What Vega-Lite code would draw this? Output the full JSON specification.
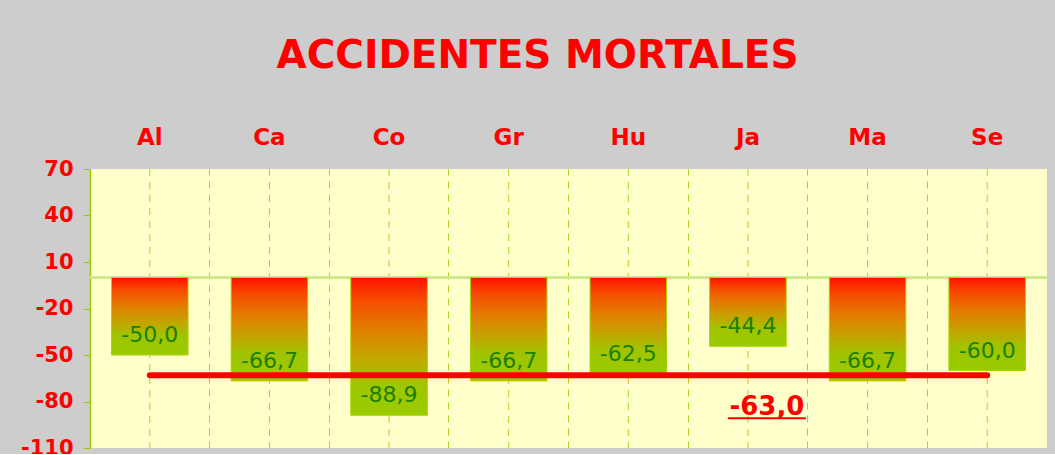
{
  "$schema": "https://vega.github.io/schema/vega-lite/v6.json",
  "autosize": {"type": "none"},
  "padding": {"left": 90, "top": 169, "right": 8, "bottom": 6},
  "width": 957,
  "height": 279,
  "background": "#cdcdcd",
  "config": {
    "view": {"fill": "#ffffcc", "stroke": null},
    "font": "DejaVu Sans",
    "locale": {"number": {"decimal": ",", "thousands": ".", "grouping": [3], "currency": ["", " €"], "minus": "-"}}
  },
  "title": {
    "text": "ACCIDENTES MORTALES",
    "font": "DejaVu Sans",
    "fontSize": 39,
    "fontWeight": "bold",
    "color": "#ff0000",
    "anchor": "middle",
    "dx": -31,
    "offset": 50
  },
  "datasets": {
    "bars": [
      {"cat": "Al", "value": -50.0},
      {"cat": "Ca", "value": -66.7},
      {"cat": "Co", "value": -88.9},
      {"cat": "Gr", "value": -66.7},
      {"cat": "Hu", "value": -62.5},
      {"cat": "Ja", "value": -44.4},
      {"cat": "Ma", "value": -66.7},
      {"cat": "Se", "value": -60.0}
    ],
    "avg": [
      {"start": "Al", "end": "Se", "labelcat": "Ja", "avg": -63.0}
    ]
  },
  "encoding": {
    "x": {
      "field": "cat",
      "type": "nominal",
      "scale": {"domain": ["Al", "Ca", "Co", "Gr", "Hu", "Ja", "Ma", "Se"], "paddingInner": 0, "paddingOuter": 0},
      "axis": {
        "orient": "top",
        "title": null,
        "labelAngle": 0,
        "labelFont": "DejaVu Sans",
        "labelFontSize": 23,
        "labelFontWeight": "bold",
        "labelColor": "#ff0000",
        "labelPadding": 20,
        "ticks": false,
        "domain": false,
        "grid": true,
        "bandPosition": 0,
        "gridColor": "#aad420",
        "gridDash": [7, 6],
        "gridWidth": 1
      }
    }
  },
  "layer": [
    {
      "data": {"name": "bars"},
      "mark": {"type": "rule", "color": "#aad420", "strokeDash": [7, 6], "strokeWidth": 1},
      "encoding": {}
    },
    {
      "data": {"name": "bars"},
      "mark": {"type": "rule", "color": "#cce88a", "strokeWidth": 1.5},
      "encoding": {"x": null, "y": {"datum": 0, "type": "quantitative"}}
    },
    {
      "data": {"name": "bars"},
      "mark": {
        "type": "bar",
        "width": {"band": 0.64},
        "stroke": "#a8d400",
        "strokeWidth": 1,
        "fill": {
          "gradient": "linear",
          "x1": 0, "y1": 0, "x2": 0, "y2": 1,
          "stops": [
            {"offset": 0, "color": "#ff1000"},
            {"offset": 0.15, "color": "#f84800"},
            {"offset": 0.35, "color": "#e57800"},
            {"offset": 0.55, "color": "#c8a000"},
            {"offset": 0.75, "color": "#a0c400"},
            {"offset": 1, "color": "#99cc00"}
          ]
        }
      },
      "encoding": {
        "y": {
          "field": "value",
          "type": "quantitative",
          "scale": {"domain": [-110, 70], "nice": false, "zero": false},
          "axis": {
            "title": null,
            "values": [70, 40, 10, -20, -50, -80, -110],
            "format": "d",
            "grid": false,
            "labelFont": "DejaVu Sans",
            "labelFontSize": 21,
            "labelFontWeight": "bold",
            "labelColor": "#ff0000",
            "labelPadding": 10,
            "tickSize": 7,
            "tickColor": "#99cc00",
            "domainColor": "#99cc00",
            "domainWidth": 1.5
          }
        },
        "y2": {"datum": 0}
      }
    },
    {
      "data": {"name": "bars"},
      "mark": {"type": "text", "baseline": "alphabetic", "dy": -13, "fontSize": 22, "color": "#1a8000", "font": "DejaVu Sans"},
      "encoding": {
        "y": {"field": "value", "type": "quantitative"},
        "text": {"field": "value", "type": "quantitative", "format": ".1f"}
      }
    },
    {
      "data": {"name": "avg"},
      "mark": {"type": "rule", "color": "#ff0000", "strokeWidth": 6, "strokeCap": "round"},
      "encoding": {
        "x": {"field": "start", "type": "nominal"},
        "x2": {"field": "end"},
        "y": {"field": "avg", "type": "quantitative"}
      }
    },
    {
      "data": {"name": "avg"},
      "mark": {"type": "text", "baseline": "alphabetic", "dy": 40, "dx": 19, "fontSize": 26, "fontWeight": "bold", "color": "#ff0000", "font": "DejaVu Sans"},
      "encoding": {
        "x": {"field": "labelcat", "type": "nominal"},
        "y": {"field": "avg", "type": "quantitative"},
        "text": {"field": "avg", "type": "quantitative", "format": ".1f"}
      }
    },
    {
      "data": {"name": "avg"},
      "mark": {"type": "rule", "color": "#ff0000", "strokeWidth": 2, "xOffset": -20, "x2Offset": 58, "yOffset": 43},
      "encoding": {
        "x": {"field": "labelcat", "type": "nominal"},
        "x2": {"field": "labelcat"},
        "y": {"field": "avg", "type": "quantitative"}
      }
    }
  ]
}
